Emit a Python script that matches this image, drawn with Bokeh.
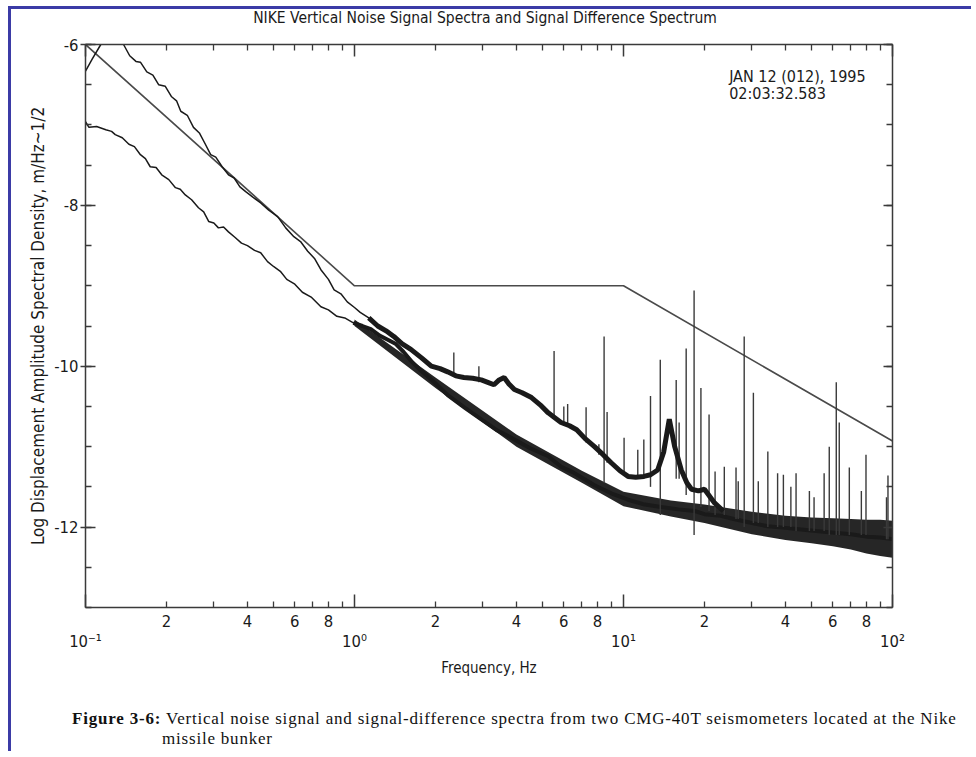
from bokeh.plotting import figure
from bokeh.models import LogAxis, LinearAxis, FixedTicker, Label, Div, Range1d, Spacer
from bokeh.layouts import column, row
from bokeh.embed import file_html
from bokeh.resources import INLINE

# ---------------- texts ----------------
TITLE = "NIKE Vertical Noise Signal Spectra and Signal Difference Spectrum"
X_LABEL = "Frequency, Hz"
Y_LABEL = "Log Displacement Amplitude Spectral Density, m/Hz~1/2"
DATE_LINE = "JAN 12 (012), 1995"
TIME_LINE = "02:03:32.583"
CAPTION_BOLD = "Figure 3-6:"
CAPTION_1 = "Vertical noise signal and signal-difference spectra from two CMG-40T seismometers located at the Nike"
CAPTION_2 = "missile bunker"

# ---------------- ticks ----------------
X_DECADES = [0.1, 1.0, 10.0, 100.0]
X_DECADE_LABELS = ["10\u207b\u00b9", "10\u2070", "10\u00b9", "10\u00b2"]
X_MINOR_MULT = [2, 3, 4, 5, 6, 7, 8, 9]
X_LABELED_MULT = [2, 4, 6, 8]
Y_MAJOR = [-12, -10, -8, -6]
Y_MAJOR_LABELS = ["-12", "-10", "-8", "-6"]
Y_MINOR = [-13, -12.5, -12, -11.5, -11, -10.5, -10, -9.5, -9, -8.5, -8, -7.5, -7, -6.5, -6]

# ---------------- data ----------------
# reference (noise model) line
S_f = [0.1, 1.0, 10.0, 100.0]
S_v = [-6.0, -9.0, -9.0, -10.93]

# signal spectrum (upper curve)
A_f = [0.100, 0.106, 0.114, 0.125, 0.1385, 0.146, 0.154, 0.160, 0.169, 0.178,
       0.187, 0.198, 0.209, 0.218, 0.226, 0.239, 0.252, 0.265, 0.279, 0.292,
       0.305, 0.322, 0.340, 0.357, 0.375, 0.394, 0.420, 0.448, 0.480, 0.518,
       0.555, 0.595, 0.63, 0.67, 0.71, 0.75, 0.80, 0.84, 0.89, 0.94,
       1.00, 1.05, 1.13, 1.22, 1.31, 1.40, 1.50, 1.62, 1.78, 1.93,
       2.08, 2.22, 2.38, 2.55, 2.75, 2.96, 3.13, 3.30, 3.45, 3.60,
       3.75, 3.93, 4.2, 4.55, 4.9, 5.25, 5.6, 5.86, 6.3, 6.7,
       7.2, 7.8, 8.4, 9.0, 9.7, 10.4, 11.1, 11.9, 12.6, 13.4,
       14.1, 14.8, 15.5, 16.4, 17.2, 17.9, 19.0, 20.0, 21.8, 23.5]
A_v = [-6.33, -6.18, -6.00, -5.90, -6.00, -6.14, -6.21, -6.22, -6.34, -6.38,
       -6.50, -6.52, -6.65, -6.70, -6.83, -6.88, -7.03, -7.10, -7.24, -7.37,
       -7.40, -7.52, -7.62, -7.66, -7.77, -7.83, -7.90, -7.97, -8.06, -8.14,
       -8.28, -8.39, -8.45, -8.57, -8.66, -8.80, -8.92, -9.05, -9.10, -9.20,
       -9.27, -9.33, -9.40, -9.50, -9.56, -9.63, -9.72, -9.79, -9.90, -10.00,
       -10.03, -10.07, -10.12, -10.14, -10.15, -10.17, -10.20, -10.23, -10.17, -10.14,
       -10.22, -10.29, -10.33, -10.39, -10.48, -10.58, -10.65, -10.70, -10.74, -10.79,
       -10.90, -11.00, -11.10, -11.20, -11.30, -11.37, -11.38, -11.37, -11.35, -11.29,
       -11.07, -10.66, -11.00, -11.29, -11.45, -11.53, -11.55, -11.53, -11.70, -11.80]

# signal-difference spectrum (lower curve)
B_f = [0.100, 0.103, 0.110, 0.119, 0.125, 0.129, 0.137, 0.145, 0.152, 0.160,
       0.167, 0.174, 0.183, 0.192, 0.204, 0.216, 0.225, 0.235, 0.248, 0.263,
       0.275, 0.287, 0.300, 0.312, 0.326, 0.340, 0.36, 0.38, 0.40, 0.425,
       0.448, 0.475, 0.50, 0.53, 0.56, 0.60, 0.64, 0.69, 0.75, 0.80,
       0.86, 0.92, 0.99, 1.07, 1.15, 1.24, 1.33, 1.42, 1.52, 1.64,
       1.76, 1.98, 2.22, 2.58, 2.96, 3.4, 3.93, 4.5, 5.25, 5.86,
       6.5, 7.8, 9.0, 10.4, 12.0, 13.8, 16.0, 18.4, 20.0, 23.0,
       25.7, 30.0, 34.4, 40.0, 45.8, 52.0, 60.9, 70.0, 81.0, 90.0, 100.0]
B_v = [-6.96, -7.03, -7.02, -7.06, -7.08, -7.12, -7.16, -7.24, -7.27, -7.37,
       -7.42, -7.52, -7.53, -7.62, -7.68, -7.78, -7.80, -7.87, -7.93, -8.03,
       -8.08, -8.20, -8.22, -8.28, -8.27, -8.33, -8.40, -8.47, -8.50, -8.56,
       -8.59, -8.70, -8.76, -8.82, -8.92, -8.98, -9.08, -9.14, -9.26, -9.30,
       -9.38, -9.40, -9.46, -9.50, -9.54, -9.62, -9.67, -9.72, -9.82, -9.95,
       -10.05, -10.20, -10.36, -10.52, -10.66, -10.80, -10.91, -11.02, -11.12, -11.25,
       -11.32, -11.48, -11.58, -11.66, -11.72, -11.75, -11.78, -11.80, -11.84, -11.86,
       -11.90, -11.95, -11.99, -12.01, -12.03, -12.05, -12.07, -12.09, -12.12, -12.13, -12.15]

# noise band around the lower curve (high-frequency scatter)
BAND_f = [1.0, 2.0, 4.0, 7.0, 10.0, 15.0, 20.0, 30.0, 40.0, 50.0, 60.0, 70.0, 80.0, 90.0, 100.0]
BAND_lo = [-9.50, -10.27, -11.00, -11.45, -11.74, -11.87, -11.95, -12.09, -12.16, -12.20,
           -12.24, -12.28, -12.33, -12.36, -12.38]
BAND_hi = [-9.42, -10.14, -10.85, -11.30, -11.56, -11.67, -11.72, -11.81, -11.86, -11.88,
           -11.89, -11.90, -11.91, -11.91, -11.92]

# narrow spectral lines: frequency, peak, foot
SPK_f = [2.34, 2.9, 5.52, 6.0, 6.2, 7.26, 8.1, 8.47, 8.69, 10.05,
         11.3, 11.9, 12.6, 13.7, 15.7, 16.1, 17.1, 18.3, 19.4, 20.8,
         21.9, 23.7, 26.2, 26.7, 28.1, 30.4, 31.7, 34.4, 37.4, 39.3,
         41.9, 43.8, 49.1, 51.1, 55.7, 58.2, 61.8, 63.4, 69.1, 76.6,
         79.7, 95.0, 96.2]
SPK_top = [-9.83, -10.00, -9.81, -10.50, -10.47, -10.51, -10.97, -9.63, -10.57, -10.89,
           -11.04, -10.91, -10.37, -9.92, -10.17, -10.70, -9.78, -9.06, -10.27, -10.60,
           -11.31, -11.25, -11.26, -11.43, -9.63, -10.33, -11.43, -11.06, -11.33, -11.35,
           -11.50, -11.33, -11.55, -11.63, -11.33, -11.00, -10.20, -10.70, -11.26, -11.55,
           -11.10, -11.63, -11.36]
SPK_base = [-10.10, -10.20, -10.65, -10.70, -10.75, -10.95, -11.10, -11.45, -11.20, -11.35,
            -11.40, -11.40, -11.50, -11.85, -11.40, -11.40, -11.60, -12.10, -11.75, -11.80,
            -11.85, -11.85, -11.90, -11.90, -12.00, -11.95, -11.95, -12.00, -12.00, -12.00,
            -12.00, -12.05, -12.05, -12.05, -12.05, -12.10, -12.10, -12.10, -12.10, -12.10,
            -12.10, -12.15, -12.15]

# ---------------- styling ----------------
FONT = "DejaVu Sans Condensed, Liberation Sans, sans-serif"
SERIF = "Liberation Serif"
FS = "16.5px"
INK = "#1a1a1a"
AX = "#3a3a3a"
BLUE = "#3b3ba6"

p = figure(width=960, height=668, x_axis_type="log", title=None,
           x_range=Range1d(0.1, 100), y_range=Range1d(-13, -6),
           x_axis_location=None, y_axis_location=None,
           output_backend="svg", toolbar_location=None,
           min_border_left=74, min_border_right=79, min_border_top=13, min_border_bottom=92)
p.grid.visible = False
p.outline_line_color = None
p.background_fill_color = "white"
p.border_fill_color = "white"

x_minor = [round(m * d, 6) for d in X_DECADES[:-1] for m in X_MINOR_MULT]
x_labeled = [round(m * d, 6) for d in X_DECADES[:-1] for m in X_LABELED_MULT]


def frame_axis(axis):
    axis.axis_line_color = AX
    axis.axis_line_width = 1.5
    axis.major_tick_line_color = AX
    axis.major_tick_line_width = 1.5
    axis.minor_tick_line_color = AX
    axis.minor_tick_line_width = 1.3
    axis.major_label_text_font = FONT
    axis.major_label_text_font_size = FS
    axis.major_label_text_color = INK
    axis.axis_label_text_font = FONT
    axis.axis_label_text_font_size = FS
    axis.axis_label_text_font_style = "normal"
    axis.axis_label_text_color = INK
    return axis


def hide_labels(axis):
    axis.major_label_text_font_size = "1px"
    axis.major_label_text_alpha = 0
    return axis


def hide_line(axis):
    axis.axis_line_color = None
    axis.major_tick_line_color = None
    axis.minor_tick_line_color = None
    return axis


# bottom: tick marks only
axA = hide_labels(frame_axis(LogAxis(ticker=FixedTicker(ticks=X_DECADES, minor_ticks=x_minor),
                                     major_tick_in=13, major_tick_out=0, minor_tick_in=6,
                                     minor_tick_out=0, major_label_standoff=0)))
# bottom: 2 4 6 8 labels
axB = hide_line(frame_axis(LogAxis(ticker=FixedTicker(ticks=x_labeled, minor_ticks=[]),
                                   major_tick_in=0, major_tick_out=0, minor_tick_in=0,
                                   minor_tick_out=0, major_label_standoff=7,
                                   major_label_overrides={v: str(m) for v, m in
                                                          zip(x_labeled, X_LABELED_MULT * 3)})))
# bottom: decade labels + axis label
axC = hide_line(frame_axis(LogAxis(ticker=FixedTicker(ticks=X_DECADES, minor_ticks=[]),
                                   major_tick_in=0, major_tick_out=0, minor_tick_in=0,
                                   minor_tick_out=0, major_label_standoff=2,
                                   axis_label=X_LABEL, axis_label_standoff=5,
                                   major_label_overrides=dict(zip(X_DECADES, X_DECADE_LABELS)))))
axC.axis_label_text_font_size = "15px"
p.add_layout(axA, "below")
p.add_layout(axB, "below")
p.add_layout(axC, "below")

axT = hide_labels(frame_axis(LogAxis(ticker=FixedTicker(ticks=X_DECADES, minor_ticks=x_minor),
                                     major_tick_in=12, major_tick_out=0, minor_tick_in=6,
                                     minor_tick_out=0, major_label_standoff=0)))
p.add_layout(axT, "above")

axL = frame_axis(LinearAxis(ticker=FixedTicker(ticks=Y_MAJOR, minor_ticks=Y_MINOR),
                            major_tick_in=10, major_tick_out=5, minor_tick_in=6, minor_tick_out=0,
                            major_label_standoff=2, axis_label=Y_LABEL, axis_label_standoff=3,
                            major_label_overrides=dict(zip(Y_MAJOR, Y_MAJOR_LABELS))))
axL.axis_label_text_font_size = "17px"
p.add_layout(axL, "left")

axR = hide_labels(frame_axis(LinearAxis(ticker=FixedTicker(ticks=Y_MAJOR, minor_ticks=Y_MINOR),
                                        major_tick_in=9, major_tick_out=0, minor_tick_in=6,
                                        minor_tick_out=0, major_label_standoff=0)))
p.add_layout(axR, "right")

# ---------------- glyphs ----------------
p.line(S_f, S_v, line_color="#4a4a4a", line_width=1.6)

p.varea(x=BAND_f, y1=BAND_lo, y2=BAND_hi, fill_color=INK, fill_alpha=0.95)
p.line(B_f, B_v, line_color=INK, line_width=1.5)
iB = B_f.index(0.99)
p.line(B_f[iB:], B_v[iB:], line_color=INK, line_width=4)

p.segment(x0=SPK_f, y0=SPK_base, x1=SPK_f, y1=SPK_top, line_color="#3a3a3a", line_width=1.4)

p.line(A_f, A_v, line_color=INK, line_width=1.5)
iA = A_f.index(1.13)
p.line(A_f[iA:], A_v[iA:], line_color=INK, line_width=5)

p.add_layout(Label(x=24.7, y=-6.40, text=DATE_LINE, text_font=FONT, text_font_size="16px",
                   text_color=INK, text_baseline="alphabetic"))
p.add_layout(Label(x=24.7, y=-6.61, text=TIME_LINE, text_font=FONT, text_font_size="16px",
                   text_color=INK, text_baseline="alphabetic"))

title_div = Div(
    text=(f'<div style="font-family:\'DejaVu Sans Condensed\',\'Liberation Sans\',sans-serif;'
          f'font-size:15.5px;line-height:18px;color:{INK};white-space:nowrap;'
          f'width:948px;text-align:center;">{TITLE}</div>'),
    width=960, height=22, margin=0)

caption = Div(
    text=(f'<div style="font-family:\'{SERIF}\';font-size:17px;line-height:20px;color:#111;'
          f'letter-spacing:0.8px;white-space:nowrap;padding-top:10px;padding-left:151px;'
          f'text-indent:-90px;"><b>{CAPTION_BOLD}</b> {CAPTION_1}<br>{CAPTION_2}</div>'),
    width=960, height=52, margin=0)

framed = column(title_div, p, caption, styles={"border-left": f"3px solid {BLUE}",
                                               "border-top": f"3px solid {BLUE}"})
layout = column(Spacer(height=6), row(Spacer(width=8), framed))

open("out.html", "w").write(file_html(layout, INLINE))
